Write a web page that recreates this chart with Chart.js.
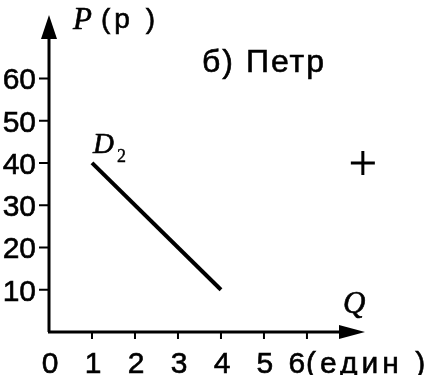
<!DOCTYPE html>
<html>
<head>
<meta charset="utf-8">
<script src="https://cdn.jsdelivr.net/npm/chart.js@4/dist/chart.umd.min.js"></script>
<style>
	body { margin: 0; background: #fff; }
	canvas { display: block; }
</style>
</head>
<body>
<canvas id="demand-chart" width="424" height="375"></canvas>
<script>
// quantity ticks (един) and price ticks (р)
const qTicks = [0, 1, 2, 3, 4, 5, 6]
const pTicks = [10, 20, 30, 40, 50, 60]

// demand curve D2 for Петр
const demandQ = [1, 4]
const demandP = [40, 10]

// the cross mark at the right
const markQ = [7.3]
const markP = [40]

const sans = "'Liberation Sans', Arial, sans-serif"
const serif = "'Liberation Serif', 'Times New Roman', serif"

// filled text with a thin outline so it looks as heavy as the scan
const heavyText = (ctx, text, x, y) => {
	ctx.fillText(text, x, y)
	ctx.strokeText(text, x, y)
}

/*
Axes with arrows, ticks and all texts are drawn here, positioned by the chart scales
*/
const axesPlugin = {
	id: 'axes',
	afterDatasetsDraw: chart => {
		const ctx = chart.ctx
		const xs = chart.scales.x
		const ys = chart.scales.y
		const x0 = xs.getPixelForValue(0)
		const y0 = ys.getPixelForValue(0)
		const xEnd = xs.right
		const yEnd = ys.top

		ctx.save()
		ctx.strokeStyle = '#000'
		ctx.fillStyle = '#000'
		ctx.lineWidth = 3

		// axis lines
		ctx.beginPath()
		ctx.moveTo(x0, y0)
		ctx.lineTo(x0, yEnd + 15)
		ctx.moveTo(x0 - 1, y0)
		ctx.lineTo(xEnd - 15, y0)
		ctx.stroke()

		// arrow heads
		ctx.beginPath()
		ctx.moveTo(x0, yEnd)
		ctx.lineTo(x0 - 8, yEnd + 24)
		ctx.lineTo(x0 + 8, yEnd + 24)
		ctx.closePath()
		ctx.fill()
		ctx.beginPath()
		ctx.moveTo(xEnd, y0)
		ctx.lineTo(xEnd - 26, y0 - 7)
		ctx.lineTo(xEnd - 26, y0 + 7)
		ctx.closePath()
		ctx.fill()

		// tick marks
		ctx.lineWidth = 2
		ctx.beginPath()
		pTicks.forEach(v => {
			const y = ys.getPixelForValue(v)
			ctx.moveTo(x0 - 10, y)
			ctx.lineTo(x0, y)
		})
		qTicks.forEach(v => {
			if (v > 0) {
				const x = xs.getPixelForValue(v)
				ctx.moveTo(x, y0)
				ctx.lineTo(x, y0 + 7)
			}
		})
		ctx.stroke()

		// price labels
		ctx.lineWidth = 0.6
		ctx.font = '30px ' + sans
		ctx.textAlign = 'right'
		ctx.textBaseline = 'alphabetic'
		pTicks.forEach(v => {
			heavyText(ctx, String(v), x0 - 13, ys.getPixelForValue(v) + 11)
		})

		// quantity labels, the last one carries the unit
		ctx.textAlign = 'center'
		qTicks.forEach(v => {
			const x = xs.getPixelForValue(v)
			if (v === qTicks[qTicks.length - 1]) {
				heavyText(ctx, String(v), x - 10, 373)
				ctx.textAlign = 'left'
				ctx.letterSpacing = '4px'
				heavyText(ctx, '(един )', x - 1, 373)
				ctx.letterSpacing = '0px'
				ctx.textAlign = 'center'
			} else {
				heavyText(ctx, String(v), x + 1, 373)
			}
		})

		// axis titles
		ctx.textAlign = 'left'
		ctx.font = 'italic 31px ' + serif
		heavyText(ctx, 'P', x0 + 24, 29)
		ctx.font = '28px ' + sans
		ctx.letterSpacing = '4px'
		heavyText(ctx, '(p )', x0 + 52, 28)
		ctx.letterSpacing = '0px'
		ctx.font = 'italic 31px ' + serif
		heavyText(ctx, 'Q', xs.getPixelForValue(6.84), y0 - 19)

		// panel title
		ctx.font = '32px ' + sans
		ctx.letterSpacing = '2px'
		heavyText(ctx, 'б) Петр', 202, 72)
		ctx.letterSpacing = '0px'

		// curve label
		const lx = xs.getPixelForValue(demandQ[0])
		const ly = ys.getPixelForValue(demandP[0])
		ctx.font = 'italic 29px ' + serif
		heavyText(ctx, 'D', lx + 1, ly - 10)
		ctx.font = '18px ' + serif
		ctx.lineWidth = 0.4
		heavyText(ctx, '2', lx + 25, ly - 1)

		ctx.restore()
	}
}

const chartCtx = document.getElementById('demand-chart').getContext('2d')

const demandChart = new Chart(chartCtx, {
	type: 'scatter',
	data: {
		datasets: [{
			data: demandQ.map((q, i) => ({ x: q, y: demandP[i] })),
			showLine: true,
			borderColor: '#000',
			borderWidth: 4,
			pointRadius: 0
		}, {
			data: markQ.map((q, i) => ({ x: q, y: markP[i] })),
			pointStyle: 'cross',
			pointRadius: 12,
			borderColor: '#000',
			borderWidth: 3,
			clip: false
		}]
	},
	options: {
		responsive: false,
		animation: false,
		layout: {
			padding: { left: 49, right: 59, top: 10, bottom: 43 }
		},
		plugins: {
			legend: { display: false },
			tooltip: { enabled: false }
		},
		scales: {
			x: { type: 'linear', min: 0, max: 7.35, display: false },
			y: { type: 'linear', min: 0, max: 75, display: false }
		}
	},
	plugins: [axesPlugin]
})
</script>
</body>
</html>
